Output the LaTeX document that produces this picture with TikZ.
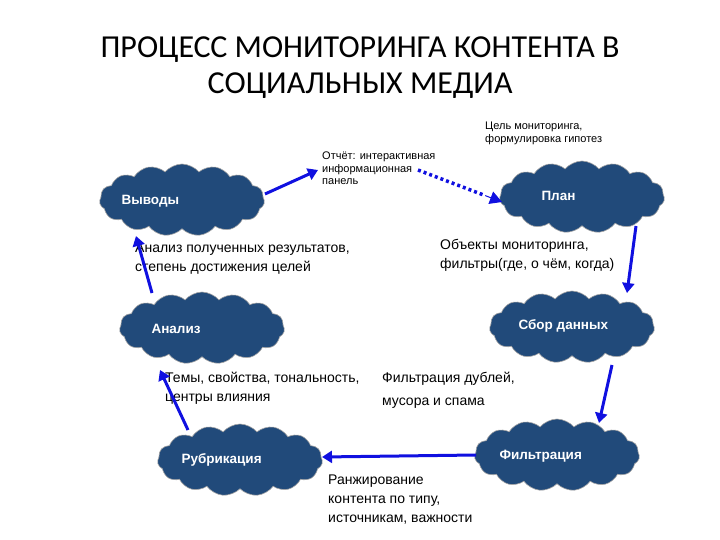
\documentclass[tikz,border=0pt]{standalone}
\usepackage{fontspec}
\setmainfont{Liberation Sans}
\newfontfamily\titlefont{Carlito}
\usetikzlibrary{shapes.symbols,arrows.meta,calc}
\definecolor{cl}{HTML}{214A7A}
\definecolor{ar}{HTML}{1010E0}
\begin{document}
\begin{tikzpicture}[x=1pt,y=-1pt,
  cloudbox/.style={cloud,cloud puffs=15,cloud puff arc=100,aspect=2.5,fill=cl,draw=gray!70,line width=0.6pt,minimum width=165pt,minimum height=72pt,inner sep=0pt},
  ctext/.style={text=white,font=\bfseries\fontsize{13.5}{15}\selectfont,anchor=west},
  lbl/.style={anchor=north west,align=left,font=\fontsize{14}{19}\selectfont,inner sep=0pt},
  small/.style={anchor=north west,align=left,font=\fontsize{11}{12.5}\selectfont,inner sep=0pt},
  arr/.style={draw=ar,line width=3pt,-{Triangle[length=10pt,width=12pt]}}]
\useasboundingbox (0,0) rectangle (720,540);
\node[font=\titlefont\fontsize{32}{36}\selectfont,align=center] (title) at (360,68) {ПРОЦЕСС МОНИТОРИНГА КОНТЕНТА В\\СОЦИАЛЬНЫХ МЕДИА};
\node[cloudbox] (vy) at (182,200) {};
\node[ctext] at (118,201) {Выводы};
\node[cloudbox] (pl) at (582,197) {};
\node[ctext] at (538,196) {План};
\node[cloudbox] (sb) at (572,327) {};
\node[ctext] at (515,326) {Сбор данных};
\node[cloudbox] (an) at (202,328) {};
\node[ctext] at (148,329) {Анализ};
\node[cloudbox] (ru) at (240,460) {};
\node[ctext] at (178,460) {Рубрикация};
\node[cloudbox] (fi) at (557,455) {};
\node[ctext] at (496,456) {Фильтрация};
\node[small] (goal) at (485,122) {Цель мониторинга,\\формулировка гипотез};
\node[small] (rep) at (322,152) {Отчёт: интерактивная\\информационная\\панель};
\node[lbl] (t1) at (135,243) {Анализ полученных результатов,\\степень достижения целей};
\node[lbl] (t2) at (440,239) {Объекты мониторинга,\\фильтры(где, о чём, когда)};
\node[lbl] (t3) at (165,372) {Темы, свойства, тональность,\\центры влияния};
\node[lbl] (t4) at (382,372) {Фильтрация дублей,};
\node[lbl] (t5) at (382,398) {мусора и спама};
\node[lbl] (t6) at (328,475) {Ранжирование\\контента по типу,\\источникам, важности};
\coordinate (r1) at (265,194); \coordinate (r2) at (318,170);
\coordinate (d1) at (418,170); \coordinate (d2) at (502,202);
\coordinate (dm) at ($(d1)!0.8!(d2)$);
\draw[arr] (r1) -- (r2);
\draw[ar,line width=3.5pt,dash pattern=on 3pt off 3pt] (d1) -- (dm);
\draw[draw=ar,line width=1pt,-{Triangle[length=12pt,width=13pt]}] (dm) -- (d2);
\coordinate (p1) at (636,226); \coordinate (p2) at (627,293);
\draw[arr] (p1) -- (p2);
\coordinate (s1) at (612,365); \coordinate (s2) at (599,423);
\draw[arr] (s1) -- (s2);
\coordinate (f1) at (476,455); \coordinate (f2) at (322,457);
\draw[arr] (f1) -- (f2);
\coordinate (u1) at (188,430); \coordinate (u2) at (160,370);
\draw[arr] (u1) -- (u2);
\coordinate (a1) at (152,293); \coordinate (a2) at (136,236);
\draw[arr] (a1) -- (a2);
\end{tikzpicture}
\end{document}
